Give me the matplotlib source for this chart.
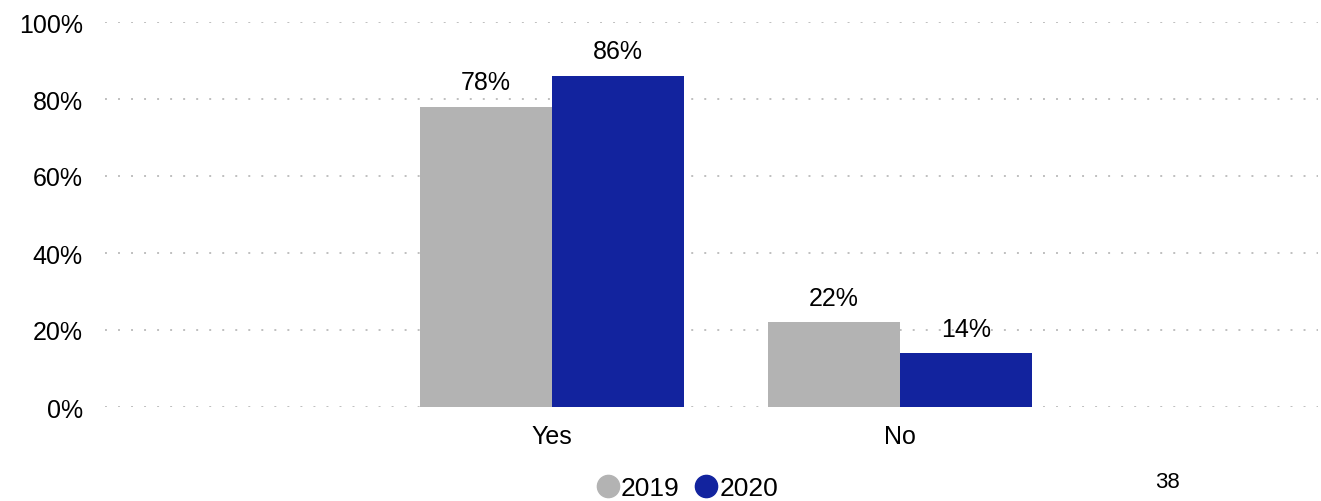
import matplotlib.pyplot as plt
import numpy as np
from matplotlib.lines import Line2D

plt.rcParams['font.family'] = ['Liberation Sans', 'DejaVu Sans']

# Данные
categories = ['Yes', 'No']
years = ['2019', '2020']
values_2019 = [78, 22]
values_2020 = [86, 14]
colors = ['#B3B3B3', '#12239E']

fig = plt.figure(figsize=(13.21, 5.02), dpi=100)
ax = fig.add_axes([105 / 1321, 1 - 408 / 502, 1213 / 1321, 385 / 502])

x = np.arange(len(categories))
width = 0.38

bars1 = ax.bar(x - width / 2, values_2019, width, color=colors[0], zorder=2)
bars2 = ax.bar(x + width / 2, values_2020, width, color=colors[1], zorder=2)

# Подписи значений над столбцами
for bars, vals in [(bars1, values_2019), (bars2, values_2020)]:
    for b, v in zip(bars, vals):
        ax.annotate(f'{v}%', (b.get_x() + b.get_width() / 2, v),
                    xytext=(0, 9), textcoords='offset points',
                    ha='center', va='bottom', fontsize=18)

ax.set_ylim(0, 100)
ax.set_xlim(-1.284, 2.201)
ax.set_yticks(range(0, 101, 20))
ax.set_yticklabels([f'{t}%' for t in range(0, 101, 20)], fontsize=18)
ax.set_xticks(x)
ax.set_xticklabels(categories, fontsize=18)
ax.tick_params(length=0)
ax.tick_params(axis='y', pad=16)
ax.tick_params(axis='x', pad=12)

ax.grid(axis='y', color='#BFBFBF', linewidth=1.4, linestyle=(0, (1.0, 5.7)), zorder=0)
for s in ax.spines.values():
    s.set_visible(False)

handles = [Line2D([], [], marker='o', linestyle='', markersize=16,
                  markerfacecolor=c, markeredgecolor=c) for c in colors]
fig.legend(handles, years, loc='center', bbox_to_anchor=(685 / 1321, 1 - 489 / 502),
           ncol=2, frameon=False, fontsize=19, handletextpad=-0.1,
           columnspacing=0.4, handlelength=1.2, borderpad=0)

fig.text(1167 / 1321, 1 - 483 / 502, '38', ha='center', va='center', fontsize=16)

plt.savefig('out.png', dpi=100)
